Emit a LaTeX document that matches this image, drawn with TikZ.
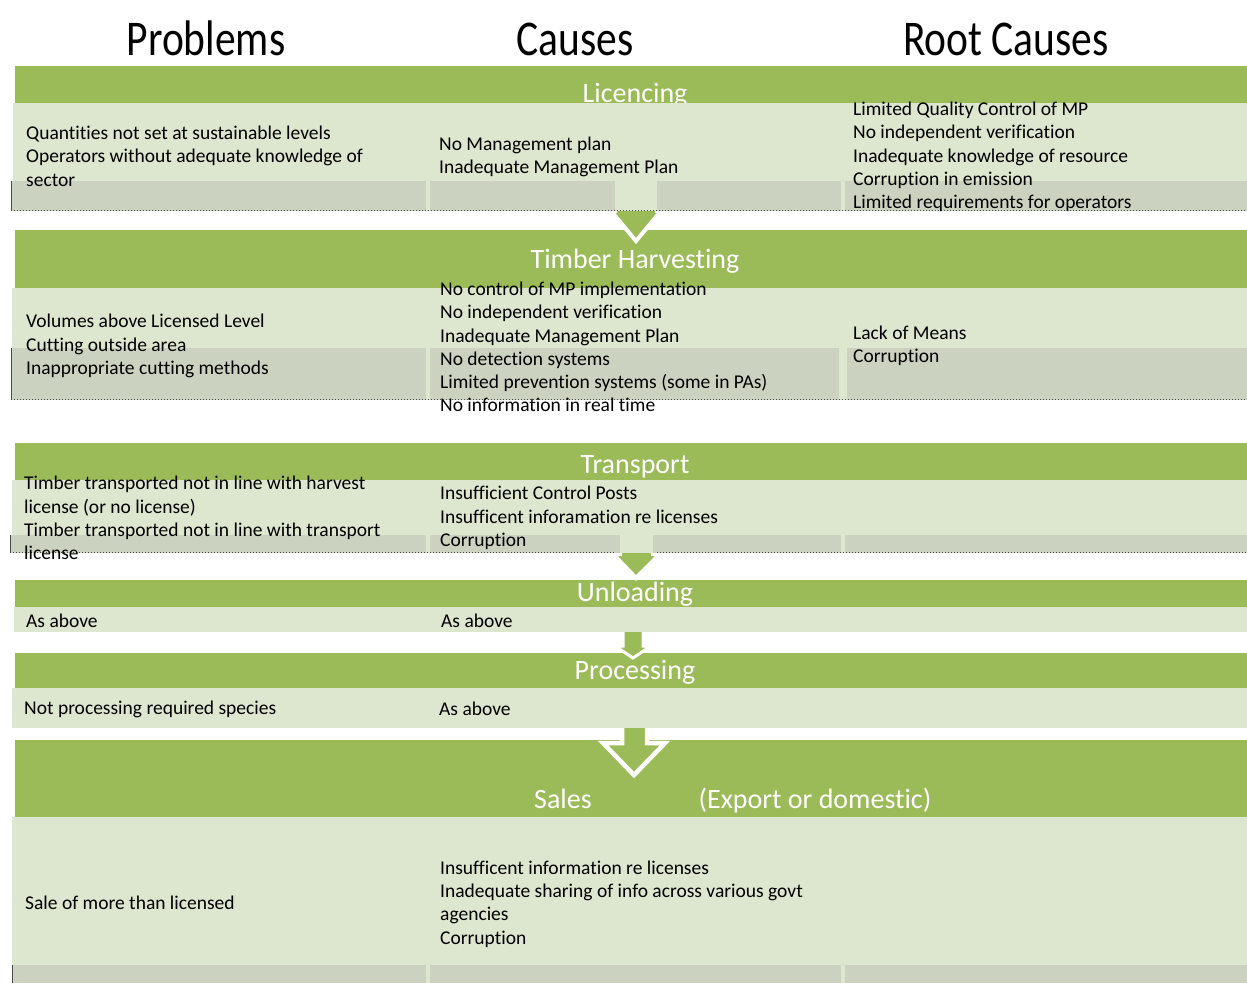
\documentclass[tikz,border=0pt]{standalone}
\usepackage{fontspec}
\setmainfont{Carlito}[Ligatures={NoCommon,NoContextual}]
\definecolor{bargreen}{HTML}{9BBB59}
\definecolor{celllight}{HTML}{DDE6CE}
\definecolor{celldark}{HTML}{CCD2C0}
\definecolor{edgegray}{HTML}{4A4A4A}
\begin{document}
\begin{tikzpicture}[x=1pt,y=-1pt,
  hdr/.style={font=\fontsize{50}{50}\selectfont, inner sep=0, anchor=base},
  stagetitle/.style={font=\fontsize{28}{28}\selectfont, text=white, inner sep=0, anchor=base},
  celltext/.style={font=\fontsize{19.5}{23.3}\selectfont, align=left, inner sep=0, anchor=west},
  bar/.style={fill=bargreen},
  rowbg/.style={fill=celllight},
  strip/.style={fill=celldark},
  stripedge/.style={draw=edgegray, line width=1.2pt},
  stripbottom/.style={draw=edgegray, line width=1pt, dash pattern=on 1pt off 2pt},
  flowarrow/.style={fill=bargreen, draw=white, line width=4pt, line join=miter}
]
\useasboundingbox (0,0) rectangle (1247,983);
\fill[white] (0,0) rectangle (1247,983);

% column headings
\node[hdr] (hprob)  at (206,55)  {\scalebox{0.83}[1]{Problems}};
\node[hdr] (hcause) at (575,55)  {\scalebox{0.83}[1]{Causes}};
\node[hdr] (hroot)  at (1006,55) {\scalebox{0.83}[1]{Root Causes}};

% stage bars with their titles
\fill[bar] (15,66)  rectangle (1247,103);
\node[stagetitle] (tlic) at (635,102) {Licencing};
\fill[bar] (15,230) rectangle (1247,288);
\node[stagetitle] (tharv) at (635,268) {Timber Harvesting};
\fill[bar] (15,443) rectangle (1247,480);
\node[stagetitle] (ttrans) at (635,473) {Transport};
\fill[bar] (15,580) rectangle (1247,607);
\node[stagetitle] (tunl) at (635,601) {Unloading};
\fill[bar] (15,653) rectangle (1247,688);
\node[stagetitle] (tproc) at (635,679) {Processing};
\fill[bar] (15,740) rectangle (1247,817);
\node[stagetitle] (tsales) at (563,808) {Sales};
\node[stagetitle] (texp) at (815,808) {(Export or domestic)};

% block arrows between stages
\path[flowarrow] (615,170) -- (657,170) -- (657,211) -- (661,211) -- (636,241) -- (611,211) -- (615,211) -- cycle;
\path[flowarrow] (620,520) -- (653,520) -- (653,554) -- (660,554) -- (636,578) -- (613,554) -- (620,554) -- cycle;
\path[flowarrow, line width=3pt] (623,628) -- (643,628) -- (643,646) -- (651,646) -- (633,658) -- (615,646) -- (623,646) -- cycle;
\path[flowarrow, line width=4.5pt] (622,724) -- (647,724) -- (647,743) -- (665,743) -- (634,775) -- (603,743) -- (622,743) -- cycle;

% Licencing cells
\fill[rowbg] (13,103) rectangle (1247,211);
\fill[strip] (11,181) rectangle (426,211);
\fill[strip] (430,181) rectangle (841,211);
\fill[strip] (845,181) rectangle (1247,211);
\fill[rowbg] (615,181) rectangle (657,211);
\draw[stripedge] (11.5,181) -- (11.5,211);
\draw[stripbottom] (11,210.5) -- (1247,210.5);

% Timber Harvesting cells
\fill[rowbg] (12,288) rectangle (1247,400);
\fill[strip] (11,348) rectangle (426,400);
\fill[strip] (430,348) rectangle (839,400);
\fill[strip] (847,348) rectangle (1247,400);
\draw[stripedge] (11.5,348) -- (11.5,400);
\draw[stripbottom] (11,399.5) -- (1247,399.5);

% Transport cells
\fill[rowbg] (12,480) rectangle (1247,553);
\fill[strip] (10,535) rectangle (426,553);
\fill[strip] (430,535) rectangle (841,553);
\fill[strip] (845,535) rectangle (1247,553);
\fill[rowbg] (620,535) rectangle (653,553);
\draw[stripedge] (10.5,535) -- (10.5,553);
\draw[stripbottom] (10,552.5) -- (615,552.5);
\draw[stripbottom] (657,552.5) -- (1247,552.5);

% Unloading cells
\fill[rowbg] (14,607) rectangle (1247,632);

% Processing cells
\fill[rowbg] (12,688) rectangle (1247,728);

% Sales cells
\fill[rowbg] (12,817) rectangle (1247,983);
\fill[strip] (12,965) rectangle (426,983);
\fill[strip] (430,965) rectangle (841,983);
\fill[strip] (845,965) rectangle (1247,983);
\draw[stripedge] (12.5,965) -- (12.5,983);

% Licencing texts
\node[celltext] (lic1) at (26,156) {Quantities not set at sustainable levels\\Operators without adequate knowledge of\\sector};
\node[celltext] (lic2) at (439,157) {No Management plan\\Inadequate Management Plan};
\node[celltext] (lic3) at (853,157) {Limited Quality Control of MP\\No independent verification\\Inadequate knowledge of resource\\Corruption in emission\\Limited requirements for operators};

% Timber Harvesting texts
\node[celltext] (harv1) at (26,346) {Volumes above Licensed Level\\Cutting outside area\\Inappropriate cutting methods};
\node[celltext] (harv2) at (440,347) {No control of MP implementation\\No independent verification\\Inadequate Management Plan\\No detection systems\\Limited prevention systems (some in PAs)\\No information in real time};
\node[celltext] (harv3) at (853,346) {Lack of Means\\Corruption};

% Transport texts
\node[celltext] (trans1) at (24,518) {Timber transported not in line with harvest\\license (or no license)\\Timber transported not in line with transport\\license};
\node[celltext] (trans2) at (440,518) {Insufficient Control Posts\\Insufficent inforamation re licenses\\Corruption};

% Unloading texts
\node[celltext] (unl1) at (26,621) {As above};
\node[celltext] (unl2) at (441,621) {As above};

% Processing texts
\node[celltext] (proc1) at (24,709) {Not processing required species};
\node[celltext] (proc2) at (439,709) {As above};

% Sales texts
\node[celltext] (sal1) at (25,903) {Sale of more than licensed};
\node[celltext] (sal2) at (440,904) {Insufficent information re licenses\\Inadequate sharing of info across various govt\\agencies\\Corruption};
\end{tikzpicture}
\end{document}
